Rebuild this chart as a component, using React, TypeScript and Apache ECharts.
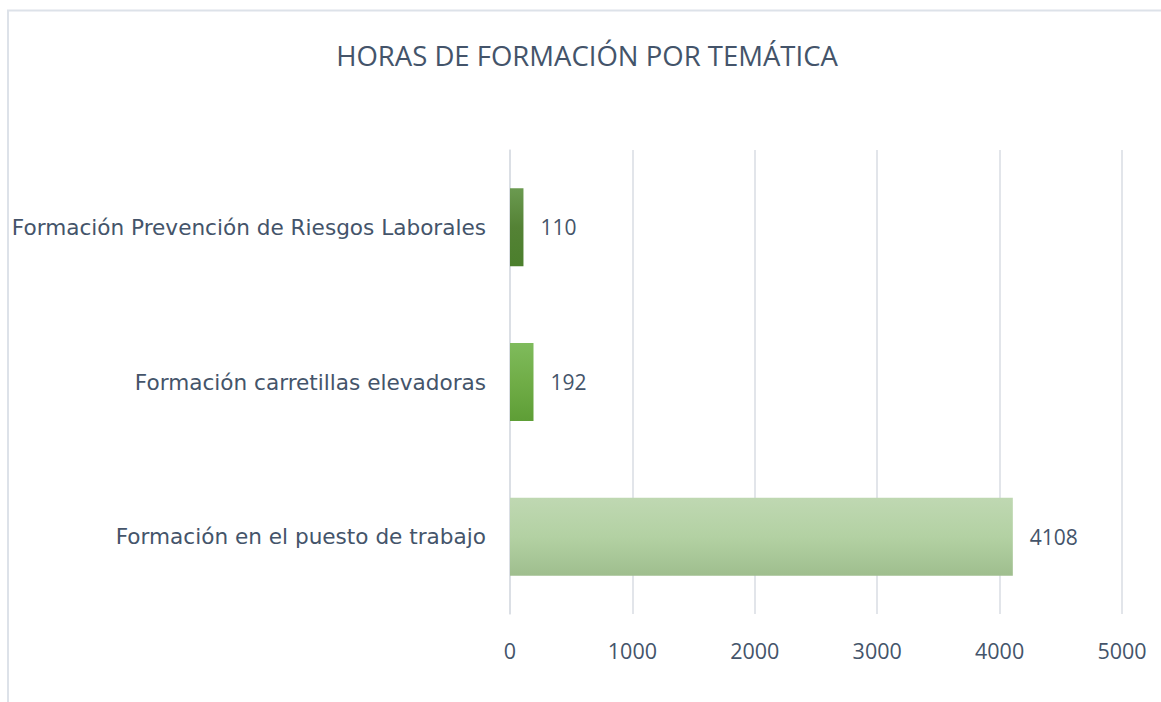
import React, { useEffect, useRef } from "react";
import * as echarts from "echarts";

const categories = [
  "Formación en el puesto de trabajo",
  "Formación carretillas elevadoras",
  "Formación Prevención de Riesgos Laborales",
];
const values = [4108, 192, 110];
const xTicks = { min: 0, max: 5000, interval: 1000 };
const barGradients = [
  ["#bfd8b2", "#b3d1a3", "#9fbe8e"],
  ["#7fbb5c", "#70ad47", "#5e9e36"],
  ["#6b9a50", "#548235", "#4b7f2c"],
];

const TEXT = "#44546a";
const FONT = "'Open Sans', 'Noto Sans', sans-serif";
const WIDE = "'DejaVu Sans', 'Open Sans', sans-serif";

export default function App() {
  const ref = useRef<HTMLDivElement>(null);
  useEffect(() => {
    if (!ref.current) return;
    const chart = echarts.init(ref.current, undefined, { renderer: "svg" });
    chart.setOption({
      animation: false,
      backgroundColor: "#ffffff",
      title: {
        text: "HORAS DE FORMACIÓN POR TEMÁTICA",
        left: 582,
        textAlign: "center",
        top: 36,
        textStyle: { color: TEXT, fontFamily: FONT, fontSize: 27.5, fontWeight: "normal" },
      },
      graphic: [
        {
          type: "polyline",
          shape: { points: [[8, 710], [8, 10.5], [1170, 10.5]] },
          style: { stroke: "#dde2e9", lineWidth: 2, fill: "none" },
          silent: true,
        },
      ],
      grid: { left: 510, right: 39, top: 150, bottom: 88, containLabel: false },
      xAxis: {
        type: "value",
        min: xTicks.min,
        max: xTicks.max,
        interval: xTicks.interval,
        axisLine: { show: false },
        axisTick: { show: false },
        splitLine: { show: true, lineStyle: { color: "#d9dde3", width: 1.5 } },
        axisLabel: {
          color: TEXT,
          fontFamily: FONT,
          fontSize: 21.5,
          margin: 25,
          formatter: (v: number) => String(v),
        },
      },
      yAxis: {
        type: "category",
        data: categories,
        axisLine: { show: true, lineStyle: { color: "#d9dde3", width: 1.5 } },
        axisTick: { show: false },
        axisLabel: { color: TEXT, fontFamily: WIDE, fontSize: 21.6, margin: 24 },
      },
      series: [
        {
          type: "bar",
          barWidth: 78,
          data: values.map((v, i) => ({
            value: v,
            itemStyle: {
              color: new echarts.graphic.LinearGradient(0, 0, 0, 1, [
                { offset: 0, color: barGradients[i][0] },
                { offset: 0.5, color: barGradients[i][1] },
                { offset: 1, color: barGradients[i][2] },
              ]),
            },
          })),
          label: {
            show: true,
            position: "right",
            distance: 17,
            color: TEXT,
            fontFamily: FONT,
            fontSize: 21,
          },
        },
      ],
    });
    return () => chart.dispose();
  }, []);
  return (
    <div
      ref={ref}
      style={{ position: "fixed", left: 0, top: 0, width: 1161, height: 702 }}
    />
  );
}
